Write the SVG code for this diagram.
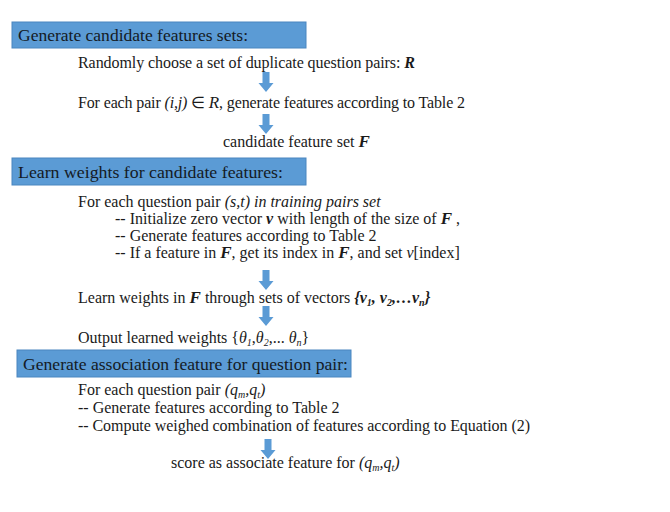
<svg xmlns="http://www.w3.org/2000/svg" xmlns:xlink="http://www.w3.org/1999/xlink" width="670" height="512" viewBox="0 0 670 512">
<style>
text{font-family:"Liberation Serif","Times New Roman",serif;fill:#1a1a1a}
.t{font-size:16px}
.h{font-size:17.5px;fill:#141a24}
.bar{fill:#5b9bd5;stroke:#4a86bf;stroke-width:1}
.i{font-style:italic}
.bi{font-style:italic;font-weight:bold}
.arr{fill:#5b9bd5}
</style>
<defs>
<path id="dn" d="M-3.5,0 H3.5 V11 H7.5 L0,20 L-7.5,11 H-3.5 Z"/>
</defs>
<rect width="670" height="512" fill="#ffffff"/>

<g id="connectors" class="arr">
<use xlink:href="#dn" x="266" y="72"/>
<use xlink:href="#dn" x="266" y="114"/>
<use xlink:href="#dn" x="266" y="270"/>
<use xlink:href="#dn" x="266" y="306"/>
<use xlink:href="#dn" x="268" y="439"/>
</g>

<g id="section1">
<rect class="bar" x="12" y="22" width="294" height="26"/>
<text class="h" x="18" y="40.5" textLength="230" lengthAdjust="spacingAndGlyphs">Generate candidate features sets:</text>
</g>
<g id="node-random">
<text class="t" x="78" y="68" textLength="337">Randomly choose a set of duplicate question pairs: <tspan class="bi">R</tspan></text>
</g>
<g id="node-pairs">
<text class="t" x="78" y="108" textLength="387">For each pair <tspan class="i">(i,j)</tspan> ∈ <tspan class="i" font-size="17">R</tspan>, generate features according to Table 2</text>
</g>
<g id="node-candidate">
<text class="t" x="223" y="147">candidate feature set <tspan class="bi" font-size="17">F</tspan></text>
</g>

<g id="section2">
<rect class="bar" x="12" y="158" width="294" height="27"/>
<text class="h" x="18" y="177.5" textLength="265" lengthAdjust="spacingAndGlyphs">Learn weights for candidate features:</text>
</g>
<g id="node-training">
<text class="t" x="78" y="207">For each question pair <tspan class="i">(s,t) in training pairs set</tspan></text>
<text class="t" x="115" y="224">-- Initialize zero vector <tspan class="bi">v</tspan> with length of the size of <tspan class="bi" font-size="17">F</tspan> ,</text>
<text class="t" x="115" y="241">-- Generate features according to Table 2</text>
<text class="t" x="115" y="258">--  If a feature in <tspan class="bi" font-size="17">F</tspan>, get its index in <tspan class="bi" font-size="17">F</tspan>, and set <tspan class="i">v</tspan>[index]</text>
</g>
<g id="node-learn">
<text class="t" x="78" y="303">Learn weights in <tspan class="bi" font-size="17">F</tspan> through sets of vectors <tspan class="bi">{v</tspan><tspan class="bi" font-size="10" dy="3">1</tspan><tspan class="bi" dy="-3">, v</tspan><tspan class="bi" font-size="10" dy="3">2</tspan><tspan class="bi" dy="-3">,…v</tspan><tspan class="bi" font-size="10" dy="3">n</tspan><tspan class="bi" dy="-3">}</tspan></text>
</g>
<g id="node-output">
<text class="t" x="78" y="343">Output learned weights  {<tspan class="i">θ</tspan><tspan class="i" font-size="10" dy="3">1</tspan><tspan dy="-3">,</tspan><tspan class="i">θ</tspan><tspan class="i" font-size="10" dy="3">2</tspan><tspan dy="-3">,... </tspan><tspan class="i">θ</tspan><tspan class="i" font-size="10" dy="3">n</tspan><tspan dy="-3">}</tspan></text>
</g>

<g id="section3">
<rect class="bar" x="17" y="350" width="334" height="27"/>
<text class="h" x="23" y="370" textLength="325" lengthAdjust="spacingAndGlyphs">Generate association feature for question pair:</text>
</g>
<g id="node-question">
<text class="t" x="78" y="395">For each question pair <tspan class="i">(q</tspan><tspan class="i" font-size="10" dy="3">m</tspan><tspan class="i" dy="-3">,q</tspan><tspan class="i" font-size="10" dy="3">t</tspan><tspan class="i" dy="-3">)</tspan></text>
<text class="t" x="78" y="413">-- Generate features according to Table 2</text>
<text class="t" x="78" y="431" textLength="452">-- Compute weighed combination of features according to Equation (2)</text>
</g>
<g id="node-score">
<text class="t" x="171" y="468">score as associate feature for <tspan class="i">(q</tspan><tspan class="i" font-size="10" dy="3">m</tspan><tspan class="i" dy="-3">,q</tspan><tspan class="i" font-size="10" dy="3">t</tspan><tspan class="i" dy="-3">)</tspan></text>
</g>
</svg>
